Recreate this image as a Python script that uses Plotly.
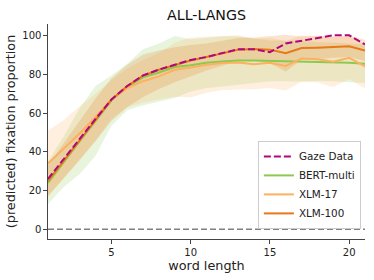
import plotly.graph_objects as go

word_length = list(range(1, 22))

gaze = [26, 36.5, 47, 57, 67, 74, 79.5, 82.5, 85, 87.5, 89, 91, 93, 93, 91.5, 96, 97.5, 98.8, 100.2, 100.2, 95.5]
bert_multi = [24, 35, 45.5, 56, 66.5, 73.5, 78.5, 81, 83.8, 84.7, 86, 86.7, 87.2, 87.2, 87, 87, 86.8, 86.6, 86.5, 86, 85.5]
xlm17 = [34, 41.5, 49.5, 58, 67, 73, 76.5, 79, 82.4, 83.6, 85, 85.9, 86.2, 85.3, 86, 84.4, 88.2, 87.8, 86.5, 88.6, 84.2]
xlm100 = [25, 35.5, 46, 56.5, 67, 74, 79.3, 82.4, 85, 87.2, 89, 91, 92.8, 93.1, 92.8, 91.0, 93.6, 93.8, 94.1, 94.5, 92.4]

bert_std = [11, 13, 17, 18, 13, 12, 14.5, 15, 16, 13.5, 13, 13, 12.5, 11.5, 10.5, 10.5, 10.5, 10, 10, 10, 10]
xlm17_std = [17, 15, 14, 12, 10, 10, 11, 12, 14, 15.5, 14.5, 14, 14, 13, 13, 12.7, 12, 12, 13, 11, 11.5]
xlm100_std = [8, 9, 10, 11, 11, 11, 11, 10, 9, 8, 7, 6.5, 6, 6, 7, 9.5, 6, 6, 5.5, 5.5, 5.5]

series = [
    ("BERT-multi", bert_multi, bert_std, "#8cc94e", "rgba(140,201,78,0.2)"),
    ("XLM-17", xlm17, xlm17_std, "#fdb060", "rgba(253,176,96,0.2)"),
    ("XLM-100", xlm100, xlm100_std, "#e87818", "rgba(232,120,24,0.2)"),
]
gaze_color = "#b0067e"

fig = go.Figure()

# zero reference line
fig.add_trace(go.Scatter(x=[word_length[0], word_length[-1]], y=[0, 0], mode="lines",
                         line=dict(color="#808080", width=1.5, dash="6px,3px"),
                         showlegend=False, hoverinfo="skip"))

# bands
for name, vals, std, col, fcol in series:
    lo = [v - s for v, s in zip(vals, std)]
    hi = [v + s for v, s in zip(vals, std)]
    fig.add_trace(go.Scatter(x=word_length, y=lo, mode="lines", line=dict(width=0),
                             showlegend=False, hoverinfo="skip"))
    fig.add_trace(go.Scatter(x=word_length, y=hi, mode="lines", line=dict(width=0),
                             fill="tonexty", fillcolor=fcol, showlegend=False, hoverinfo="skip"))

# lines
for i, (name, vals, std, col, fcol) in enumerate(series):
    fig.add_trace(go.Scatter(x=word_length, y=vals, mode="lines", name=name,
                             line=dict(color=col, width=2), legendrank=i + 2))

fig.add_trace(go.Scatter(x=word_length, y=gaze, mode="lines", name="Gaze Data",
                         line=dict(color=gaze_color, width=2, dash="7px,3px"), legendrank=1))

fig.update_layout(
    width=374, height=280,
    margin=dict(l=47.5, r=9, t=24, b=41),
    paper_bgcolor="white", plot_bgcolor="white",
    font=dict(family="DejaVu Sans", color="#222"),
    title=dict(text="ALL-LANGS", x=0.5, xref="paper", y=1 - 15.5 / 280, yref="container",
               yanchor="middle", xanchor="center", font=dict(size=14.2, color="#111")),
    legend=dict(x=0.987, y=0.047, xanchor="right", yanchor="bottom", traceorder="normal",
                bgcolor="rgba(255,255,255,0.8)", bordercolor="#cccccc", borderwidth=1,
                font=dict(size=10.4, color="#222"), tracegroupgap=0),
    showlegend=True,
)

fig.update_xaxes(range=[1, 21], tickvals=[5, 10, 15, 20], showgrid=False, zeroline=False,
                 showline=True, linecolor="#444", linewidth=1.2, ticks="outside", ticklen=3.5,
                 tickcolor="#444", tickfont=dict(size=10),
                 title=dict(text="word length", font=dict(size=12.8), standoff=1))
fig.update_yaxes(range=[-5.05, 106.05], tickvals=[0, 20, 40, 60, 80, 100], showgrid=False,
                 zeroline=False, showline=True, linecolor="#444", linewidth=1.2, ticks="outside",
                 ticklen=3.5, tickcolor="#444", tickfont=dict(size=10),
                 title=dict(text="(predicted) fixation proportion", font=dict(size=12.8), standoff=3))

fig.write_html("out.html", config={"displayModeBar": False},
               post_script="document.body.style.margin='0';")
